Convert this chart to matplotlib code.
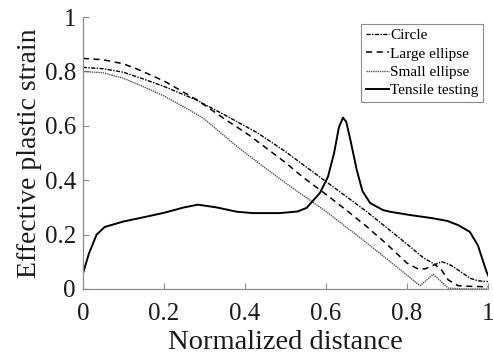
import matplotlib
matplotlib.use('Agg')
import matplotlib.pyplot as plt
from matplotlib import font_manager

# Normalized distance / effective plastic strain
circle_x = [0, 0.05, 0.1, 0.15, 0.2, 0.28, 0.35, 0.43, 0.5, 0.55, 0.6, 0.65,
            0.7, 0.75, 0.8, 0.84, 0.869, 0.886, 0.905, 0.926, 0.955, 0.975, 1.0]
circle_y = [0.815, 0.81, 0.797, 0.772, 0.745, 0.695, 0.64, 0.575, 0.505, 0.45,
            0.395, 0.34, 0.285, 0.225, 0.165, 0.115, 0.09, 0.1, 0.09, 0.07,
            0.04, 0.03, 0.027]

large_x = [0, 0.05, 0.1, 0.14, 0.2, 0.28, 0.35, 0.41, 0.5, 0.544, 0.6, 0.65,
           0.7, 0.75, 0.8, 0.825, 0.845, 0.869, 0.885, 0.902, 0.926, 0.95, 1.0]
large_y = [0.848, 0.843, 0.828, 0.805, 0.765, 0.697, 0.625, 0.566, 0.465, 0.41,
           0.348, 0.29, 0.23, 0.165, 0.095, 0.075, 0.074, 0.09, 0.07, 0.033,
           0.012, 0.01, 0.008]

small_x = [0, 0.05, 0.1, 0.14, 0.2, 0.263, 0.3, 0.386, 0.45, 0.5, 0.6, 0.7,
           0.779, 0.832, 0.865, 0.902, 0.95, 1.0]
small_y = [0.80, 0.795, 0.775, 0.75, 0.71, 0.658, 0.625, 0.517, 0.445, 0.39,
           0.285, 0.17, 0.076, 0.012, 0.054, 0.003, 0.0, 0.0]

tensile_x = [0, 0.015, 0.034, 0.054, 0.1, 0.157, 0.2, 0.25, 0.284, 0.33, 0.38,
             0.42, 0.486, 0.53, 0.552, 0.585, 0.605, 0.62, 0.632, 0.642, 0.65,
             0.66, 0.676, 0.69, 0.709, 0.741, 0.758, 0.807, 0.864, 0.9, 0.926,
             0.955, 0.975, 0.996, 1.0]
tensile_y = [0.055, 0.13, 0.2, 0.228, 0.248, 0.266, 0.28, 0.3, 0.31, 0.3, 0.284,
             0.279, 0.279, 0.285, 0.298, 0.353, 0.413, 0.5, 0.595, 0.63, 0.615,
             0.55, 0.4375, 0.36, 0.316, 0.29, 0.284, 0.272, 0.26, 0.25, 0.235,
             0.21, 0.16, 0.064, 0.05]

x_ticks = [0, 0.2, 0.4, 0.6, 0.8, 1]
x_tick_labels = ['0', '0.2', '0.4', '0.6', '0.8', '1']
y_ticks = [0, 0.2, 0.4, 0.6, 0.8, 1]
y_tick_labels = ['0', '0.2', '0.4', '0.6', '0.8', '1']

# Times-like serif; fail loudly if it is missing
serif_path = font_manager.findfont(
    font_manager.FontProperties(family='Liberation Serif'),
    fallback_to_default=False)
serif_name = font_manager.FontProperties(fname=serif_path).get_name()
plt.rcParams['font.family'] = 'serif'
plt.rcParams['font.serif'] = [serif_name, 'DejaVu Serif']

fig = plt.figure(figsize=(4.93, 3.55), dpi=100)
ax = fig.add_axes([0.168, 0.186, 0.822, 0.766])

ax.plot(circle_x, circle_y, color='black', lw=1.0,
        linestyle=(0, (3, 1, 1, 1)), label='Circle')
ax.plot(large_x, large_y, color='black', lw=1.1,
        linestyle=(0, (4, 3)), label='Large ellipse')
ax.plot(small_x, small_y, color='#555555', lw=1.0,
        linestyle=(0, (1, 0.6)), label='Small ellipse')
ax.plot(tensile_x, tensile_y, color='black', lw=1.4,
        linestyle='-', label='Tensile testing')

ax.set_xlim(0, 1)
ax.set_ylim(0, 1)
ax.set_xticks(x_ticks)
ax.set_xticklabels(x_tick_labels)
ax.set_yticks(y_ticks)
ax.set_yticklabels(y_tick_labels)

for side in ('top', 'right'):
  ax.spines[side].set_visible(False)
for side in ('left', 'bottom'):
  ax.spines[side].set_color('#8c8c8c')
  ax.spines[side].set_linewidth(0.9)

ax.tick_params(direction='in', length=4, width=0.8, color='#8c8c8c',
               labelsize=18, labelcolor='#1a1a1a')
ax.tick_params(axis='x', pad=10)
ax.tick_params(axis='y', pad=5)

ax.set_xlabel('Normalized distance', fontsize=20.5, color='#1a1a1a',
              labelpad=4)
ax.set_ylabel('Effective plastic strain', fontsize=20, color='#1a1a1a',
              labelpad=2)

leg = ax.legend(loc='upper right', bbox_to_anchor=(0.988, 0.974), fontsize=11,
                handlelength=1.5, handletextpad=0.1, labelspacing=0.3,
                borderpad=0.3, borderaxespad=0, fancybox=False, framealpha=1)
leg.get_frame().set_edgecolor('#8c8c8c')
leg.get_frame().set_linewidth(0.8)

fig.savefig('out.png', dpi=100)
